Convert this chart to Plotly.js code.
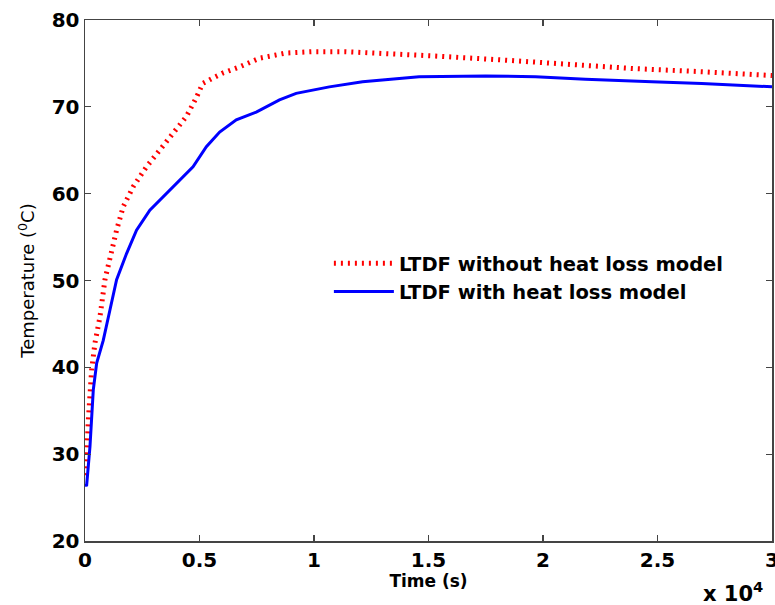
<!DOCTYPE html>
<html>
<head>
<meta charset="utf-8">
<script src="https://cdn.plot.ly/plotly-3.0.1.min.js"></script>
<style>html,body{margin:0;padding:0;background:#fff;}#chart{width:775px;height:605px;}</style>
</head>
<body>
<div id="chart"></div>
<script>
// Time (s)
var timeNoLoss = [0, 44, 145, 290, 435, 653, 871, 1089, 1380, 1668, 2104, 2686, 3266, 3920, 4430, 4870, 5140, 5575, 6025, 6750, 7620, 8780, 9950, 11400, 12700, 15300, 18200, 21100, 24000, 26900, 30000];
var tempNoLoss = [27.6, 27.8, 33.9, 39.7, 42.8, 45.8, 50.1, 52.7, 55.8, 58.5, 60.8, 63.1, 65.0, 67.1, 68.9, 71.1, 72.7, 73.3, 73.9, 74.6, 75.6, 76.2, 76.35, 76.35, 76.2, 75.85, 75.4, 74.9, 74.4, 74.05, 73.6];

var timeLoss = [0, 73, 218, 362, 510, 797, 1089, 1380, 1815, 2250, 2831, 3412, 4138, 4717, 5300, 5880, 6607, 7478, 8493, 9220, 10670, 12120, 14590, 17495, 19673, 21851, 24754, 26930, 30000];
var tempLoss = [26.4, 26.45, 30.9, 37.4, 40.5, 43.1, 46.6, 50.1, 53.1, 55.8, 58.1, 59.65, 61.6, 63.1, 65.4, 67.1, 68.5, 69.4, 70.8, 71.55, 72.3, 72.9, 73.47, 73.55, 73.47, 73.17, 72.9, 72.7, 72.3];

var xTickVals = [0, 5000, 10000, 15000, 20000, 25000, 30000];
var xTickText = ["0", "0.5", "1", "1.5", "2", "2.5", "3"];
var yTickVals = [20, 30, 40, 50, 60, 70, 80];

var seriesNames = ["LTDF without heat loss model", "LTDF with heat loss model"];

var traces = [
  {x: timeNoLoss, y: tempNoLoss, name: seriesNames[0], mode: "lines", type: "scatter",
   line: {color: "#ff0000", width: 5, dash: "2px,5px"}},
  {x: timeLoss, y: tempLoss, name: seriesNames[1], mode: "lines", type: "scatter",
   line: {color: "#0000ff", width: 3}}
];

var tickFont = {family: "DejaVu Sans", size: 20, color: "#000", weight: "bold"};

var layout = {
  width: 775, height: 605,
  margin: {l: 85, r: 3, t: 20, b: 64},
  paper_bgcolor: "#fff", plot_bgcolor: "#fff",
  showlegend: true,
  legend: {x: 0.355, y: 0.57, xanchor: "left", yanchor: "top",
    bgcolor: "rgba(0,0,0,0)", borderwidth: 0, itemwidth: 60, tracegroupgap: 0,
    font: {family: "DejaVu Sans", size: 19.5, color: "#000", weight: "bold"}},
  xaxis: {range: [0, 30000], tickvals: xTickVals, ticktext: xTickText,
    showgrid: false, zeroline: false, showline: true, linecolor: "#444", linewidth: 1.5,
    mirror: "ticks", ticks: "inside", ticklen: 6, tickwidth: 1.2, tickcolor: "#444",
    tickfont: tickFont, ticklabeloverflow: "allow",
    title: {text: "Time (s)", standoff: 4, font: {family: "DejaVu Sans", size: 17, color: "#000", weight: "bold"}}},
  yaxis: {range: [20, 80], tickvals: yTickVals,
    showgrid: false, zeroline: false, showline: true, linecolor: "#444", linewidth: 1.5,
    mirror: "ticks", ticks: "inside", ticklen: 6, tickwidth: 1.2, tickcolor: "#444",
    tickfont: tickFont,
    title: {text: "Temperature (<sup>0</sup>C)", standoff: 12, font: {family: "DejaVu Sans", size: 18, color: "#000"}}},
  annotations: [
    {xref: "paper", yref: "paper", x: 0.99, y: -0.129, xanchor: "right", yanchor: "bottom",
     text: "x 10<sup>4</sup>", showarrow: false,
     font: {family: "DejaVu Sans", size: 21, color: "#000", weight: "bold"}}
  ]
};

Plotly.newPlot("chart", traces, layout, {displayModeBar: false, staticPlot: true});
</script>
</body>
</html>
